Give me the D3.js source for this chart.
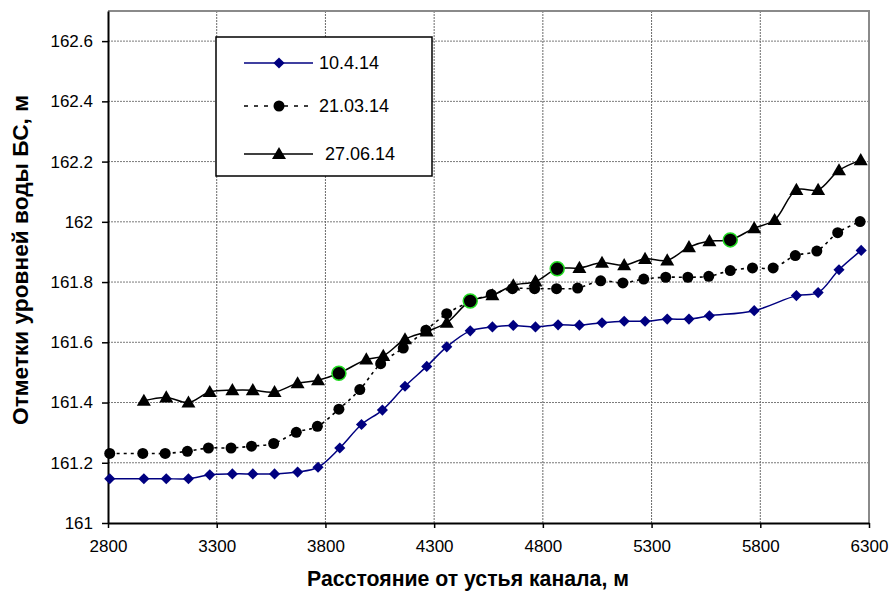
<!DOCTYPE html>
<html>
<head>
<meta charset="utf-8">
<script src="https://cdn.jsdelivr.net/npm/d3@7"></script>
<style>
  body { margin: 0; background: #fff; }
  svg { display: block; }
</style>
</head>
<body>
<div id="chart"></div>
<script>
// Data
const xTicks = [2800, 3300, 3800, 4300, 4800, 5300, 5800, 6300];
const yTicks = [161, 161.2, 161.4, 161.6, 161.8, 162, 162.2, 162.4, 162.6];

// 10.4.14
const aprX = [2808, 2965, 3068, 3170, 3268, 3372, 3466, 3566, 3672, 3766, 3866, 3966, 4062, 4166, 4266, 4358, 4466, 4568, 4664, 4766, 4870, 4968, 5072, 5174, 5270, 5372, 5472, 5566, 5772, 5966, 6066, 6162, 6264];
const aprY = [161.147, 161.147, 161.147, 161.147, 161.16, 161.163, 161.163, 161.163, 161.169, 161.185, 161.249, 161.327, 161.375, 161.454, 161.52, 161.585, 161.638, 161.651, 161.656, 161.651, 161.658, 161.657, 161.665, 161.67, 161.67, 161.677, 161.677, 161.688, 161.705, 161.755, 161.765, 161.841, 161.905];

// 21.03.14
const marX = [2808, 2960, 3063, 3165, 3262, 3366, 3460, 3562, 3666, 3763, 3862, 3958, 4054, 4158, 4262, 4358, 4466, 4563, 4660, 4762, 4863, 4960, 5066, 5168, 5264, 5365, 5467, 5563, 5662, 5764, 5859, 5961, 6060, 6156, 6259];
const marY = [161.231, 161.231, 161.231, 161.238, 161.249, 161.249, 161.255, 161.264, 161.301, 161.321, 161.378, 161.443, 161.529, 161.581, 161.64, 161.695, 161.735, 161.759, 161.778, 161.778, 161.778, 161.78, 161.804, 161.797, 161.81, 161.816, 161.816, 161.819, 161.838, 161.847, 161.847, 161.888, 161.903, 161.964, 162.001];

// 27.06.14
const junX = [2965, 3068, 3170, 3268, 3372, 3466, 3566, 3672, 3766, 3862, 3988, 4066, 4166, 4266, 4358, 4466, 4568, 4664, 4766, 4866, 4968, 5072, 5174, 5270, 5372, 5472, 5566, 5662, 5772, 5866, 5966, 6066, 6162, 6262];
const junY = [161.406, 161.417, 161.4, 161.435, 161.441, 161.441, 161.435, 161.464, 161.474, 161.497, 161.543, 161.555, 161.61, 161.636, 161.665, 161.737, 161.756, 161.789, 161.802, 161.844, 161.847, 161.864, 161.856, 161.877, 161.872, 161.916, 161.936, 161.94, 161.979, 162.006, 162.106, 162.106, 162.171, 162.205];
// points of 27.06.14 drawn as green-ringed circles
const junMarked = [3862, 4466, 4866, 5662];

const seriesNames = ["10.4.14", "21.03.14", "27.06.14"];

// Dimensions
const width = 893, height = 593;
const plot = { left: 108, right: 869, top: 11, bottom: 523 };

const svg = d3.select("#chart").append("svg")
    .attr("width", width)
    .attr("height", height);

const x = d3.scaleLinear().domain([2800, 6300]).range([plot.left, plot.right]);
const y = d3.scaleLinear().domain([161, 162.7]).range([plot.bottom, plot.top]);

const font = "'Liberation Sans', Arial, sans-serif";
const narrow = "'Liberation Sans Narrow', 'Arial Narrow', 'Liberation Sans', Arial, sans-serif";

// grid
svg.append("g")
    .selectAll("line")
    .data(yTicks.slice(1))
    .join("line")
    .attr("x1", plot.left).attr("x2", plot.right)
    .attr("y1", d => y(d)).attr("y2", d => y(d))
    .attr("stroke", "#7a7a7a")
    .attr("stroke-width", 1)
    .attr("stroke-dasharray", "2,1");

svg.append("g")
    .selectAll("line")
    .data(xTicks.slice(1, -1))
    .join("line")
    .attr("x1", d => x(d)).attr("x2", d => x(d))
    .attr("y1", plot.top).attr("y2", plot.bottom)
    .attr("stroke", "#6a6a6a")
    .attr("stroke-width", 1)
    .attr("stroke-dasharray", "2,1");

// top and right frame (gray)
svg.append("path")
    .attr("d", `M${plot.left},${plot.top}H${plot.right}V${plot.bottom}`)
    .attr("fill", "none")
    .attr("stroke", "#8a8a8a")
    .attr("stroke-width", 2);

// axes
const xAxis = svg.append("g")
    .attr("transform", `translate(0,${plot.bottom})`)
    .call(d3.axisBottom(x).tickValues(xTicks).tickSize(5).tickSizeOuter(0).tickPadding(12).tickFormat(d3.format("d")));
const yAxis = svg.append("g")
    .attr("transform", `translate(${plot.left},0)`)
    .call(d3.axisLeft(y).tickValues(yTicks).tickSize(6).tickSizeOuter(0).tickPadding(9).tickFormat(d => +d.toFixed(1)));

[xAxis, yAxis].forEach(ax => {
    ax.select(".domain").attr("stroke", "#000").attr("stroke-width", 2);
    ax.selectAll(".tick line").attr("stroke", "#000").attr("stroke-width", 1.5);
    ax.selectAll(".tick text")
        .attr("fill", "#000")
        .attr("font-family", font)
        .attr("font-size", "17px");
});

// lines
const line = d3.line()
    .x(d => x(d[0]))
    .y(d => y(d[1]))
    .curve(d3.curveCatmullRom.alpha(0.5));

const apr = d3.zip(aprX, aprY);
const mar = d3.zip(marX, marY);
const jun = d3.zip(junX, junY);

svg.append("path")
    .datum(mar)
    .attr("d", line)
    .attr("fill", "none")
    .attr("stroke", "#000")
    .attr("stroke-width", 1.6)
    .attr("stroke-dasharray", "3,4");

svg.append("path")
    .datum(jun)
    .attr("d", line)
    .attr("fill", "none")
    .attr("stroke", "#000")
    .attr("stroke-width", 1.5);

svg.append("path")
    .datum(apr)
    .attr("d", line)
    .attr("fill", "none")
    .attr("stroke", "#000080")
    .attr("stroke-width", 1.5);

// markers
const diamond = d3.symbol().type(d3.symbolSquare).size(62);
const triangle = d3.symbol().type(d3.symbolTriangle).size(85);

svg.append("g")
    .selectAll("circle")
    .data(mar)
    .join("circle")
    .attr("cx", d => x(d[0]))
    .attr("cy", d => y(d[1]))
    .attr("r", 5.5)
    .attr("fill", "#000");

svg.append("g")
    .selectAll("path")
    .data(jun.filter(d => !junMarked.includes(d[0])))
    .join("path")
    .attr("transform", d => `translate(${x(d[0])},${y(d[1]) + 1})`)
    .attr("d", triangle)
    .attr("fill", "#000");

svg.append("g")
    .selectAll("circle")
    .data(jun.filter(d => junMarked.includes(d[0])))
    .join("circle")
    .attr("cx", d => x(d[0]))
    .attr("cy", d => y(d[1]))
    .attr("r", 7)
    .attr("fill", "#000")
    .attr("stroke", "#22dd22")
    .attr("stroke-width", 1.5);

svg.append("g")
    .selectAll("path")
    .data(apr)
    .join("path")
    .attr("transform", d => `translate(${x(d[0])},${y(d[1])}) rotate(45)`)
    .attr("d", diamond)
    .attr("fill", "#000080");

// axis titles
svg.append("text")
    .attr("x", 468)
    .attr("y", 586)
    .attr("text-anchor", "middle")
    .attr("font-family", narrow)
    .attr("font-weight", "bold")
    .attr("font-size", "22px")
    .attr("textLength", 322)
    .attr("lengthAdjust", "spacingAndGlyphs")
    .text("Расстояние от устья канала, м");

svg.append("text")
    .attr("transform", "translate(28,260) rotate(-90)")
    .attr("text-anchor", "middle")
    .attr("font-family", narrow)
    .attr("font-weight", "bold")
    .attr("font-size", "22px")
    .attr("textLength", 330)
    .attr("lengthAdjust", "spacingAndGlyphs")
    .text("Отметки уровней воды БС, м");

// legend
const legend = svg.append("g").attr("transform", "translate(216,37)");
legend.append("rect")
    .attr("width", 216)
    .attr("height", 139)
    .attr("fill", "#fff")
    .attr("stroke", "#000")
    .attr("stroke-width", 1.5);

const rowY = [26, 69, 117];
const textX = [103, 103, 109];
seriesNames.forEach((name, i) => {
    const g = legend.append("g").attr("transform", `translate(0,${rowY[i]})`);
    const ln = g.append("line")
        .attr("x1", 28).attr("x2", 97)
        .attr("stroke", i === 0 ? "#000080" : "#000")
        .attr("stroke-width", 1.5);
    if (i === 1) ln.attr("stroke-dasharray", "4,6");
    if (i === 0) {
        g.append("path").attr("transform", "translate(63,0) rotate(45)").attr("d", diamond).attr("fill", "#000080");
    } else if (i === 1) {
        g.append("circle").attr("cx", 63).attr("r", 5.5).attr("fill", "#000");
    } else {
        g.append("path").attr("transform", "translate(63,1)").attr("d", triangle).attr("fill", "#000");
    }
    g.append("text")
        .attr("x", textX[i])
        .attr("y", 0)
        .attr("dy", "0.36em")
        .attr("font-family", font)
        .attr("font-size", "18px")
        .text(name);
});
</script>
</body>
</html>
